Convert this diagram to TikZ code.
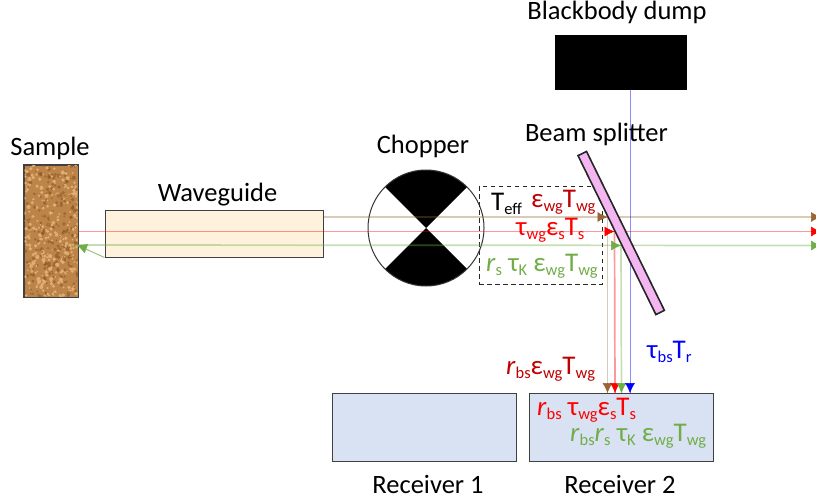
\documentclass[tikz,border=0pt]{standalone}
\usepackage{fontspec}
\setmainfont{Carlito}
\usetikzlibrary{arrows.meta,shapes.geometric}
\definecolor{cbrown}{HTML}{996633}
\definecolor{cred}{HTML}{FF0000}
\definecolor{dred}{HTML}{C00000}
\definecolor{cgreen}{HTML}{70AD47}
\definecolor{cblue}{HTML}{0000FF}
\definecolor{cork}{HTML}{BC8448}
\definecolor{corkd}{HTML}{8A5526}
\definecolor{corkl}{HTML}{E0AE72}
\definecolor{rcvfill}{HTML}{D9E2F3}
\definecolor{wgfill}{HTML}{FFF2DC}
\definecolor{bsfill}{HTML}{F4B6F0}
\newcommand{\lo}[1]{\raisebox{-4pt}{\fontsize{16.5}{17}\selectfont #1}}
\tikzset{
  x=1pt,y=-1pt,
  lbl/.style={inner sep=0pt,font=\fontsize{26.5}{28}\selectfont,text=black,anchor=center},
  eq/.style={inner sep=0pt,font=\fontsize{27}{28}\selectfont,anchor=base west},
  box/.style={draw=black!75,line width=1pt,inner sep=0pt},
  beam/.style={line width=1.7pt,draw opacity=.4},
  beamb/.style={line width=1.9pt,draw opacity=.35},
  tipped/.style={line width=.5pt,-{Latex[length=10pt,width=10pt]}},
}
\begin{document}
\begin{tikzpicture}
\useasboundingbox (0,0) rectangle (816,503);
% receivers and dump
\node[box,fill=rcvfill,minimum width=184pt,minimum height=68pt] (r1) at (424,427) {};
\node[box,fill=rcvfill,minimum width=184pt,minimum height=68pt] (r2) at (621,427) {};
\node[fill=black,inner sep=0pt,minimum width=132pt,minimum height=55pt] (dump) at (621,62.5) {};
% sample
\node[box,fill=cork,minimum width=54pt,minimum height=132pt] (sample) at (51,231) {};
\begin{scope}
\clip (24.5,165.5) rectangle (77.5,296.5);
\pgfmathsetseed{4711}
\foreach \i in {1,...,500}{
  \pgfmathsetmacro{\xx}{24+54*rnd}
  \pgfmathsetmacro{\yy}{165+132*rnd}
  \pgfmathsetmacro{\rr}{0.8+1.3*rnd}
  \pgfmathsetmacro{\cc}{rnd}
  \ifdim\cc pt<0.55pt
    \fill[corkl] (\xx,\yy) circle[radius=\rr];
  \else
    \fill[corkd,opacity=.6] (\xx,\yy) circle[radius=\rr];
  \fi
}
\end{scope}
\draw[black!75,line width=1pt] (sample.north west) rectangle (sample.south east);
% waveguide
\node[box,fill=wgfill,minimum width=218pt,minimum height=47pt] (wg) at (214,233.5) {};
% chopper
\node[circle,fill=white,inner sep=0pt,minimum size=116pt] (chop) at (426,228) {};
\begin{scope}
\clip (chop.center) circle[radius=58];
\fill[black] (chop.center) -- (366,168) -- (486,168) -- cycle;
\fill[black] (chop.center) -- (366,288) -- (486,288) -- cycle;
\end{scope}
\draw[black!80,line width=1pt] (chop.center) circle[radius=58];
% dashed box
\node[draw=black!85,line width=1pt,dash pattern=on 4.5pt off 3.5pt,inner sep=0pt,minimum width=123pt,minimum height=98pt] (dash) at (540.5,235) {};
% free ends of the beams
\coordinate (bE) at (816,217);
\coordinate (rE) at (816,231.5);
\coordinate (gE) at (816,245.5);
\coordinate (bA) at (607.5,217);
\coordinate (rA) at (614.5,231.5);
\coordinate (gA) at (621,245.5);
\coordinate (bD) at (607.5,393);
\coordinate (rD) at (615,393);
\coordinate (gD) at (621.5,393);
\coordinate (kD) at (630,393);
\coordinate (gS) at (77,245);
\coordinate (rS) at (78,231.5);
% beams
\draw[beamb,cbrown] (wg.east |- bE) -- (bE);
\draw[beam,cred] (rS) -- (rE);
\draw[beam,cgreen] (gS) -- (gE);
\draw[line width=1pt,draw opacity=.7,cgreen] (wg.south west) -- (gS);
\draw[beamb,cbrown] (bA) -- (bD);
\draw[beam,cred] (rA) -- (rD);
\draw[beam,cgreen] (gA) -- (gD);
\draw[line width=1pt,draw=cblue,draw opacity=.45] (dump.south -| kD) -- (kD);
% arrowheads
\draw[tipped,cgreen] (86,248.5) -- (gS);
\draw[tipped,cbrown] (bA) ++(-2,0) -- (bA);
\draw[tipped,cred] (rA) ++(-2,0) -- (rA);
\draw[tipped,cgreen] (gA) ++(-2,0) -- (gA);
\draw[tipped,cbrown] (bD) ++(0,-2) -- (bD);
\draw[tipped,cred] (rD) ++(0,-2) -- (rD);
\draw[tipped,cgreen] (gD) ++(0,-2) -- (gD);
\draw[tipped,cblue] (kD) ++(0,-2) -- (kD);
\draw[tipped,cbrown] (bE) ++(3,0) -- ++(2,0);
\draw[tipped,cred] (rE) ++(3,0) -- ++(2,0);
\draw[tipped,cgreen] (gE) ++(3,0) -- ++(2,0);
% beam splitter
\node[rectangle,draw=black!85,fill=bsfill,line width=1.6pt,inner sep=0pt,minimum width=9.5pt,minimum height=177pt,rotate=26.1] (bs) at (621.2,233) {};
% labels
\node[lbl] (lsample) at (50,148) {Sample};
\node[lbl] (lwg) at (217.5,195) {Waveguide};
\node[lbl] (lchop) at (423,146) {Chopper};
\node[lbl] (lbs) at (596.5,134) {Beam splitter};
\node[lbl] (ldump) at (617,12.5) {Blackbody dump};
\node[lbl] (lr1) at (428,484.5) {Receiver 1};
\node[lbl] (lr2) at (620,484.5) {Receiver 2};
% equations
\node[eq,text=black] (e1) at (491,210) {T\lo{eff}};
\node[eq,text=dred] (e2) at (531,207) {ε\lo{wg}T\lo{wg}};
\node[eq,text=cred] (e3) at (516,235) {τ\lo{wg}ε\lo{s}T\lo{s}};
\node[eq,text=cgreen] (e4) at (486,271) {\textit{r}\lo{s} τ\lo{K} ε\lo{wg}T\lo{wg}};
\node[eq,text=dred] (e5) at (506,374) {\textit{r}\lo{bs}ε\lo{wg}T\lo{wg}};
\node[eq,text=cblue] (e6) at (647,358) {τ\lo{bs}T\lo{r}};
\node[eq,text=cred] (e7) at (537,415) {\textit{r}\lo{bs} τ\lo{wg}ε\lo{s}T\lo{s}};
\node[eq,text=cgreen] (e8) at (570,441) {\textit{r}\lo{bs}\textit{r}\lo{s} τ\lo{K} ε\lo{wg}T\lo{wg}};
\end{tikzpicture}
\end{document}
